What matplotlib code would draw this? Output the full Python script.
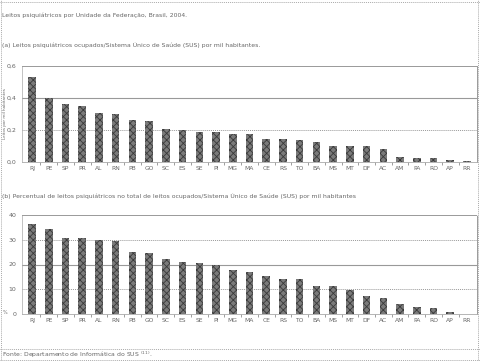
import matplotlib
matplotlib.use("Agg")
import matplotlib.pyplot as plt
import numpy as np
from matplotlib.lines import Line2D

states = ["RJ", "PE", "SP", "PR", "AL", "RN", "PB", "GO", "SC", "ES", "SE", "PI", "MG",
          "MA", "CE", "RS", "TO", "BA", "MS", "MT", "DF", "AC", "AM", "PA", "RO", "AP", "RR"]
leitos_mil = [0.534, 0.40, 0.363, 0.353, 0.306, 0.298, 0.26, 0.257, 0.209, 0.20, 0.189, 0.189, 0.175,
              0.172, 0.144, 0.144, 0.135, 0.127, 0.10, 0.10, 0.10, 0.08, 0.033, 0.025, 0.023, 0.012, 0.008]
percentual = [36.4, 34.2, 30.8, 30.6, 30.0, 29.4, 25.2, 24.6, 22.1, 21.1, 20.7, 19.7, 17.8,
              17.0, 15.5, 14.1, 14.1, 11.4, 11.4, 9.8, 7.4, 6.5, 4.2, 2.8, 2.4, 0.9, 0.1]
yticks_a = [0.0, 0.2, 0.4, 0.6]
yticks_b = [0, 10, 20, 30, 40]

title = "Leitos psiquiátricos por Unidade da Federação, Brasil, 2004."
sub_a = "(a) Leitos psiquiátricos ocupados/Sistema Único de Saúde (SUS) por mil habitantes."
sub_b = "(b) Percentual de leitos psiquiátricos no total de leitos ocupados/Sistema Único de Saúde (SUS) por mil habitantes"
fonte = "Fonte: Departamento de Informática do SUS $^{(11)}$."

plt.rcParams['hatch.linewidth'] = 0.6
W, H = 480, 361
fig = plt.figure(figsize=(W / 100, H / 100), dpi=100)
txt = '#666666'

def ax_rect(l, t, r, b):
    return [l / W, 1 - b / H, (r - l) / W, (b - t) / H]

def draw(ax, vals, ticks, fmt, solid_vals):
    x = np.arange(len(states))
    ax.bar(x, vals, width=0.45, color='#7a7a7a', edgecolor='#3a3a3a', hatch='xxxxx',
           linewidth=0, zorder=3)
    ax.set_xlim(-0.6, len(states) - 0.4)
    ax.set_ylim(ticks[0], ticks[-1])
    ax.set_yticks(ticks)
    ax.set_yticklabels([fmt(t) for t in ticks], fontsize=4.5, color=txt)
    ax.set_xticks(x)
    ax.set_xticklabels(states, fontsize=4.3, color=txt)
    ax.set_xticks(x[:-1] + 0.5, minor=True)
    ax.tick_params(axis='x', which='major', length=0, pad=3)
    ax.tick_params(axis='x', which='minor', length=2, color='#777777', width=0.5)
    ax.tick_params(axis='y', length=0, pad=4)
    for t in ticks[1:-1]:
        if t in solid_vals:
            ax.axhline(t, color='#999999', lw=0.8, zorder=1)
        else:
            ax.axhline(t, color='#999999', lw=0.7, ls=(0, (1, 1)), zorder=1)
    for s in ['top', 'right']:
        ax.spines[s].set_linestyle((0, (1, 1)))
        ax.spines[s].set_color('#999999')
        ax.spines[s].set_linewidth(0.7)
    ax.spines['left'].set_color('#aaaaaa')
    ax.spines['left'].set_linewidth(0.5)
    ax.spines['bottom'].set_color('#aaaaaa')
    ax.spines['bottom'].set_linewidth(0.6)

ax1 = fig.add_axes(ax_rect(22, 66, 477, 162))
draw(ax1, leitos_mil, yticks_a, lambda t: f"{t:.1f}".replace('.', ','), [0.4])
fig.text(5 / W, 1 - 114 / H, "Leitos por mil habitantes", fontsize=3, color=txt,
         rotation=90, ha='center', va='center')

ax2 = fig.add_axes(ax_rect(22, 215, 477, 314))
draw(ax2, percentual, yticks_b, lambda t: f"{t:d}", [20])
fig.text(3 / W, 1 - 313 / H, "%", fontsize=3.5, color=txt, va='center')

fig.text(2 / W, 1 - 15 / H, title, fontsize=4.4, color=txt, va='center')
fig.text(2 / W, 1 - 45 / H, sub_a, fontsize=4.4, color=txt, va='center')
fig.text(2 / W, 1 - 196 / H, sub_b, fontsize=4.4, color=txt, va='center')
fig.text(2 / W, 1 - 355 / H, fonte, fontsize=4.4, color=txt, va='center')

dot = dict(color='#aaaaaa', lw=0.7, ls=(0, (1, 1)), transform=fig.transFigure)
fig.add_artist(Line2D([0, 1], [1 - 2 / H, 1 - 2 / H], **dot))
fig.add_artist(Line2D([0, 1], [1 - 349 / H, 1 - 349 / H], **dot))
fig.add_artist(Line2D([0, 1], [1 - 360 / H, 1 - 360 / H], **dot))
fig.add_artist(Line2D([0.5 / W, 0.5 / W], [0, 1], **dot))
fig.add_artist(Line2D([478 / W, 478 / W], [0, 1], **dot))

fig.savefig("out.png", dpi=100)
